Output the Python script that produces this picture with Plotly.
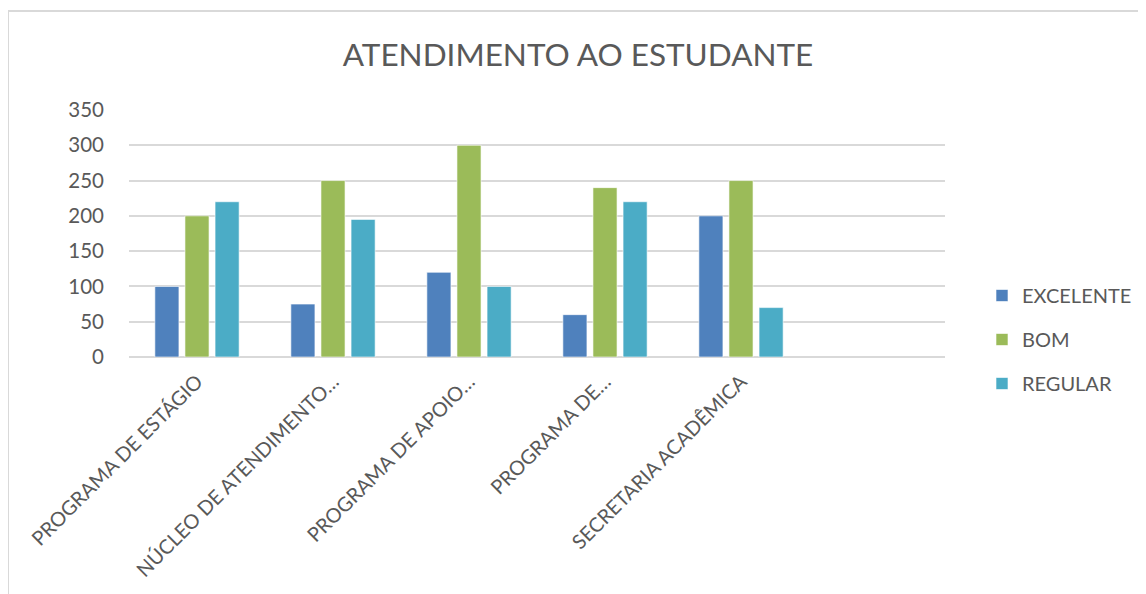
import plotly.graph_objects as go

categories = [
    "PROGRAMA DE ESTÁGIO",
    "NÚCLEO DE ATENDIMENTO…",
    "PROGRAMA DE APOIO…",
    "PROGRAMA DE…",
    "SECRETARIA ACADÊMICA",
    " ",
]
excelente = [100, 75, 120, 60, 200, None]
bom = [200, 250, 300, 240, 250, None]
regular = [220, 195, 100, 220, 70, None]

y_ticks = [0, 50, 100, 150, 200, 250, 300, 350]

_INK = "#595959"
_GRID = "#D9D9D9"
_FONT = "Lato, 'Open Sans', sans-serif"

# the page body has an 8px margin, so layout pixels are shifted by that
_PAD = 8
_L, _T, _W, _H = 129 - _PAD, 110 - _PAD, 816, 247

series = [
    ("EXCELENTE", excelente, "#4F81BD"),
    ("BOM", bom, "#9BBB59"),
    ("REGULAR", regular, "#4BACC6"),
]

fig = go.Figure()
for name, vals, color in series:
    fig.add_trace(
        go.Bar(
            x=categories,
            y=vals,
            name=name,
            legendgroup=name,
            marker=dict(color=color, line=dict(color="white", width=0.6)),
        )
    )

fig.update_layout(
    width=1146,
    height=594,
    paper_bgcolor="white",
    plot_bgcolor="white",
    margin=dict(l=_L, r=1146 - _L - _W, t=_T, b=594 - _T - _H, autoexpand=False),
    barmode="group",
    bargap=0.336,
    bargroupgap=0.2,
    font=dict(family=_FONT, color=_INK),
    title=dict(
        text="ATENDIMENTO AO ESTUDANTE",
        x=(578 - _PAD) / 1146,
        xanchor="center",
        y=1 - (55 - _PAD) / 594,
        yanchor="middle",
        font=dict(size=31.5, color=_INK, family=_FONT),
    ),
    legend=dict(
        x=(982 - _PAD - _L) / _W,
        xanchor="left",
        y=(357 - 276) / _H,
        yanchor="top",
        font=dict(size=20, color=_INK),
        tracegroupgap=15,
        itemwidth=30,
        bgcolor="rgba(0,0,0,0)",
    ),
    showlegend=True,
)

fig.update_yaxes(
    range=[0, 350],
    tickvals=y_ticks,
    showgrid=True,
    gridcolor=_GRID,
    gridwidth=1.5,
    zeroline=True,
    zerolinecolor=_GRID,
    zerolinewidth=1.5,
    showline=False,
    ticks="",
    ticklabelstandoff=24,
    tickfont=dict(size=20.5, color=_INK),
    automargin=False,
    fixedrange=True,
)
fig.update_xaxes(
    type="category",
    tickangle=-45,
    showgrid=False,
    showline=False,
    ticks="",
    ticklabelstandoff=8,
    tickfont=dict(size=20, color=_INK),
    automargin=False,
    fixedrange=True,
)

# light chart-area border like the spreadsheet frame
fig.add_shape(
    type="rect",
    xref="paper",
    yref="paper",
    x0=(8 - 129) / _W,
    x1=1.3,
    y0=-1.2,
    y1=(357 - 11) / _H,
    line=dict(color=_GRID, width=2),
    fillcolor="rgba(0,0,0,0)",
    layer="below",
)

fig.write_html("out.html")
